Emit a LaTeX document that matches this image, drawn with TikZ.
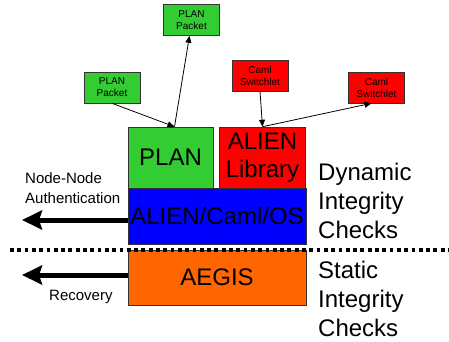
\documentclass[tikz,border=0pt]{standalone}
\usepackage{fontspec}
\setmainfont{Liberation Sans}
\usetikzlibrary{arrows.meta}
\definecolor{plangreen}{RGB}{51,204,51}
\definecolor{alienred}{RGB}{255,0,0}
\definecolor{osblue}{RGB}{0,0,255}
\definecolor{aegisorange}{RGB}{255,102,0}

\tikzset{
  layer/.style={draw=black!80, line width=0.6pt, inner sep=0pt, align=center,
    font=\fontsize{24}{28}\selectfont},
  packet/.style={draw=black!80, line width=0.6pt, inner sep=0pt, align=center,
    minimum width=56pt, minimum height=31pt, font=\fontsize{10}{12}\selectfont},
  flow/.style={line width=0.8pt, -{Triangle[length=7pt,width=6pt]}},
  bigarrow/.style={line width=5pt, -{Stealth[length=20pt,width=19pt,inset=3pt]}},
  sidetext/.style={inner sep=0pt, align=left, font=\fontsize{24}{29}\selectfont},
  smalltext/.style={inner sep=0pt, align=left, font=\fontsize{15}{20}\selectfont}
}

\begin{document}
\begin{tikzpicture}[x=1pt,y=-1pt]
    \useasboundingbox (0,0) rectangle (449,341);

    % the layered node
    \node[layer, fill=plangreen, minimum width=85pt, minimum height=61pt] (plan) at (170.5,157.5) {PLAN};
    \node[layer, fill=alienred, minimum width=86pt, minimum height=61pt] (lib) at (262.5,157.5) {ALIEN\\Library};
    \node[layer, fill=osblue, minimum width=178pt, minimum height=56pt] (os) at (217,216) {ALIEN/Caml/OS};
    \node[layer, fill=aegisorange, minimum width=178pt, minimum height=55pt] (aegis) at (217,277.5) {AEGIS};

    % static / dynamic boundary
    \draw[line width=3.5pt, dash pattern=on 3.8pt off 3.5pt] (10,250) -- (449,250);

    % incoming and outgoing code
    \node[packet, fill=plangreen] (pk1) at (112,87.5) {PLAN\\Packet};
    \node[packet, fill=plangreen] (pk2) at (191.5,20) {PLAN\\Packet};
    \node[packet, fill=alienred] (sw1) at (260,75.5) {Caml\\Switchlet};
    \node[packet, fill=alienred] (sw2) at (376.5,87.5) {Caml\\Switchlet};

    \draw[flow] (pk1.south) -- ([xshift=4pt]plan.north);
    \draw[flow] ([xshift=4pt]plan.north) -- ([xshift=-2pt]pk2.south);
    \draw[flow] (sw1.south) -- (lib.north);
    \draw[flow] (lib.north) -- ([xshift=-5pt]sw2.south);

    % checks leaving the node
    \coordinate (authend) at (22,220);
    \coordinate (recend) at (22,275);
    \draw[bigarrow] (os.west |- authend) -- (authend);
    \draw[bigarrow] (aegis.west |- recend) -- (recend);
    \node[smalltext, anchor=north west] (auth) at (25,172) {Node-Node\\Authentication};
    \node[smalltext, anchor=base west] (rec) at (49,300) {Recovery};

    \node[sidetext, anchor=north west] (dyn) at (318,163) {Dynamic\\Integrity\\Checks};
    \node[sidetext, anchor=north west] (stat) at (318,261) {Static\\Integrity\\Checks};
\end{tikzpicture}
\end{document}
